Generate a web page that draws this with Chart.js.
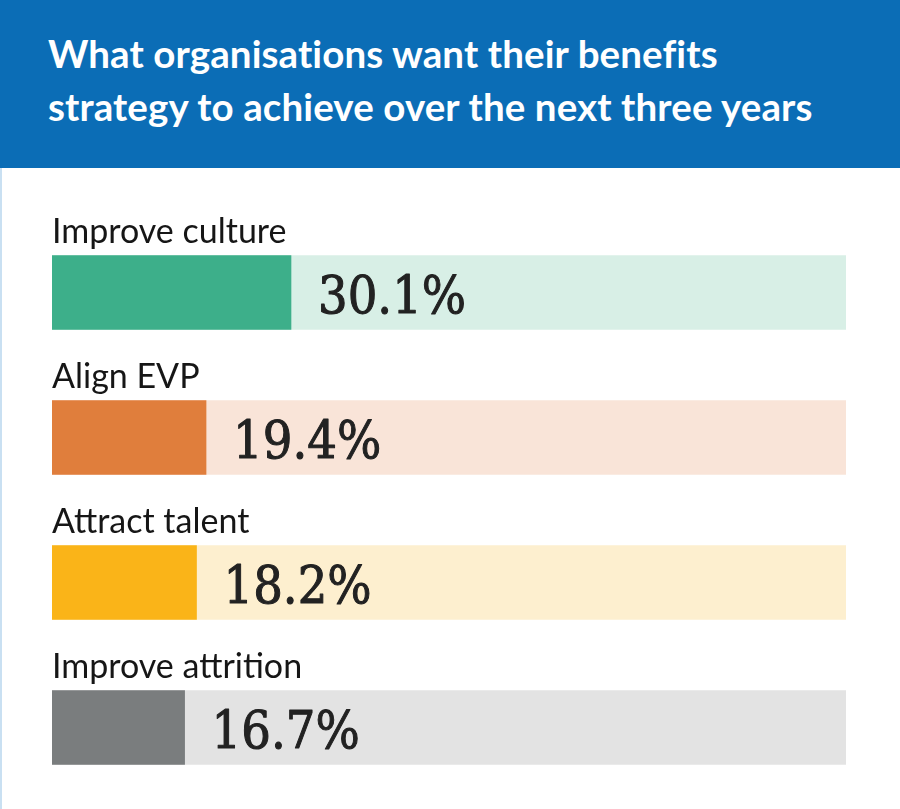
<!DOCTYPE html>
<html><head><meta charset="utf-8">
<script src="https://cdn.jsdelivr.net/npm/chart.js@4.4.1/dist/chart.umd.min.js"></script>
<style>
html,body{margin:0;padding:0;background:#fff;width:900px;height:809px;overflow:hidden;}
#hdr{position:absolute;left:0;top:0;width:900px;height:168px;background:#0b6db6;}
#hdr h1{margin:0;position:absolute;left:48px;top:27px;font-family:Lato,sans-serif;font-weight:700;font-size:38.5px;line-height:53px;color:#fff;letter-spacing:0.1px;white-space:nowrap;}
#edge{position:absolute;left:0;top:168px;width:2px;height:641px;background:#c9e0f2;}
#wrap{position:absolute;left:0;top:168px;width:900px;height:641px;}
</style></head>
<body>
<div id="hdr"><h1>What organisations want their benefits<br>strategy to achieve over the next three years</h1></div>
<div id="edge"></div>
<div id="wrap"><canvas id="c" width="900" height="641"></canvas></div>
<script>
const categories = ["Improve culture", "Align EVP", "Attract talent", "Improve attrition"];
const values = [30.1, 19.4, 18.2, 16.7];
const trackValues = [100, 100, 100, 100];
const barColors = ["#3daf8a", "#e07e3c", "#fab418", "#7a7d7e"];
const trackColors = ["#d8efe6", "#f9e4d8", "#fdefcf", "#e3e3e3"];

const labelPlugin = {
  id: 'labels',
  afterDatasetsDraw(chart) {
    const ctx = chart.ctx;
    const meta = chart.getDatasetMeta(0);
    meta.data.forEach((bar, i) => {
      const top = bar.y - bar.height / 2;
      const left = bar.base;
      ctx.save();
      ctx.fillStyle = '#161616';
      ctx.font = '34px Lato, sans-serif';
      ctx.textAlign = 'left';
      ctx.textBaseline = 'alphabetic';
      ctx.fillText(categories[i], left, top - 13);
      ctx.restore();

      ctx.save();
      ctx.fillStyle = '#222';
      ctx.strokeStyle = '#222';
      ctx.lineWidth = 1.1;
      ctx.lineJoin = 'round';
      ctx.font = '53px "DejaVu Serif", serif';
      ctx.textBaseline = 'alphabetic';
      const txt = values[i].toFixed(1) + '%';
      const x = bar.x + 27;
      ctx.translate(x, bar.y + 20);
      ctx.scale(0.88, 1);
      ctx.fillText(txt, 0, 0);
      ctx.strokeText(txt, 0, 0);
      ctx.restore();
    });
  }
};

new Chart(document.getElementById('c'), {
  type: 'bar',
  data: {
    labels: categories,
    datasets: [
      { data: values, backgroundColor: barColors, barThickness: 74, grouped: false, order: 1 },
      { data: trackValues, backgroundColor: trackColors, barThickness: 74, grouped: false, order: 2 }
    ]
  },
  options: {
    indexAxis: 'y',
    responsive: false,
    animation: false,
    layout: { padding: { left: 52, right: 54, top: 52, bottom: 9 } },
    scales: {
      x: { display: false, min: 0, max: 100 },
      y: { display: false }
    },
    plugins: { legend: { display: false }, tooltip: { enabled: false } }
  },
  plugins: [labelPlugin]
});
</script>
</body></html>
